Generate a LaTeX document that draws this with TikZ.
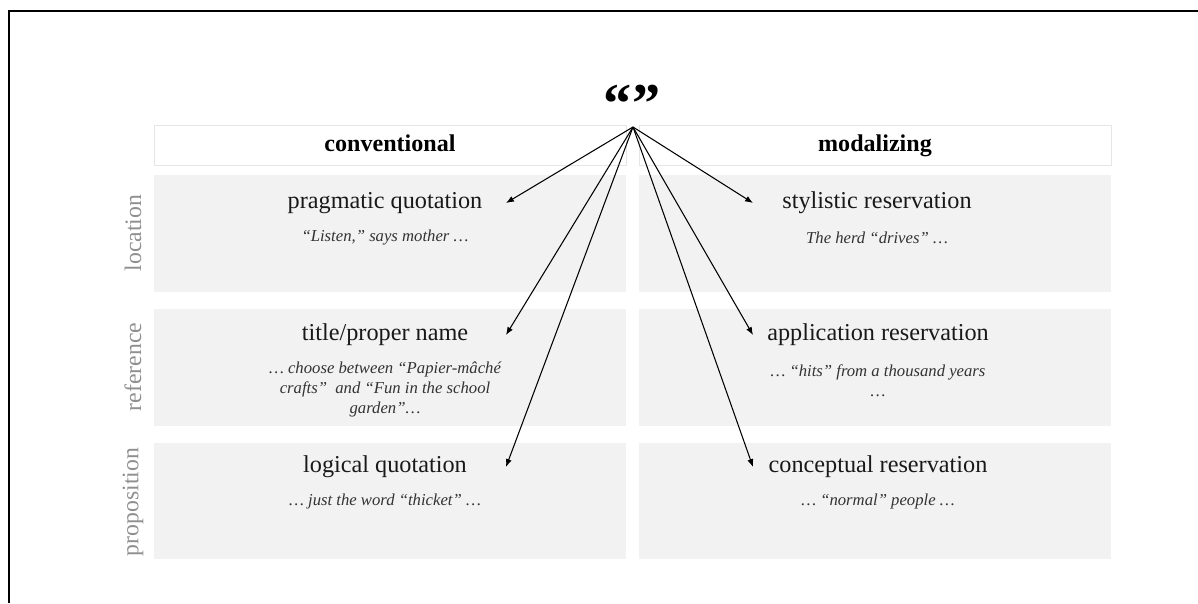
\documentclass[tikz,border=0pt]{standalone}
\usepackage{fontspec}
\setmainfont{Liberation Serif}
\usetikzlibrary{arrows.meta}
\definecolor{cellgray}{HTML}{F2F2F2}
\definecolor{headline}{HTML}{E6E6E6}
\definecolor{labgray}{HTML}{8F8F8F}

\begin{document}
\begin{tikzpicture}[x=0.02cm, y=-0.02cm,
    gnode/.style={fill=cellgray, minimum width=9.44cm, minimum height=2.34cm, inner sep=0pt},
    hnode/.style={draw=headline, fill=white, minimum width=9.44cm, minimum height=0.8cm, inner sep=0pt, text height=10pt, text depth=3pt, font=\fontsize{13.7}{16}\selectfont\bfseries},
    tnode/.style={font=\fontsize{13.8}{16}\selectfont, text=black!90, inner sep=0pt},
    enode/.style={font=\fontsize{9.5}{11.4}\selectfont\itshape, text=black!80, align=center, inner sep=0pt},
    lnode/.style={rotate=90, font=\fontsize{13.5}{16}\selectfont, text=labgray, inner sep=0pt},
    arr/.style={-{Latex[length=4.5pt,width=3.5pt]}, line width=0.6pt}]
    \useasboundingbox (0,0) rectangle (1198,603);
    \draw[line width=1.13pt] (9,603) -- (9,11) -- (1198,11);

    \node (q) at (632,104) {\fontsize{32}{32}\selectfont\bfseries “”};
    \coordinate (hub) at (633,127);
    \coordinate (tipL) at (506,0);
    \coordinate (tipR) at (753,0);

    \node[hnode] (h1) at (390,145) {conventional};
    \node[hnode] (h2) at (875,145) {modalizing};

    \node[gnode] (c11) at (390,233.5) {};
    \node[gnode] (c12) at (875,233.5) {};
    \node[gnode] (c21) at (390,367.5) {};
    \node[gnode] (c22) at (875,367.5) {};
    \node[gnode] (c31) at (390,501) {};
    \node[gnode] (c32) at (875,501) {};

    \node[lnode] (l1) at (133,233) {location};
    \node[lnode] (l2) at (133,367) {reference};
    \node[lnode] (l3) at (133,502) {proposition};

    \node[tnode] (t11) at (385,203) {pragmatic quotation};
    \node[enode] (e11) at (385,238) {“Listen,” says mother …};
    \node[tnode] (t12) at (877,203) {stylistic reservation};
    \node[enode] (e12) at (877,238) {The herd “drives” …};

    \node[tnode] (t21) at (385,335) {title/proper name};
    \node[enode] (e21) at (385,389) {… choose between “Papier-mâché\\crafts”~ and “Fun in the school\\garden”…};
    \node[tnode] (t22) at (878,335) {application reservation};
    \node[enode] (e22) at (878,381) {… “hits” from a thousand years\\…};

    \node[tnode] (t31) at (385,467) {logical quotation};
    \node[enode] (e31) at (385,501) {… just the word “thicket” …};
    \node[tnode] (t32) at (878,467) {conceptual reservation};
    \node[enode] (e32) at (878,501) {… “normal” people …};

    \draw[arr] (hub) -- (t11 -| tipL);
    \draw[arr] (hub) -- (t21 -| tipL);
    \draw[arr] (hub) -- (t31 -| tipL);
    \draw[arr] (hub) -- (t12 -| tipR);
    \draw[arr] (hub) -- (t22 -| tipR);
    \draw[arr] (hub) -- (t32 -| tipR);
\end{tikzpicture}
\end{document}
